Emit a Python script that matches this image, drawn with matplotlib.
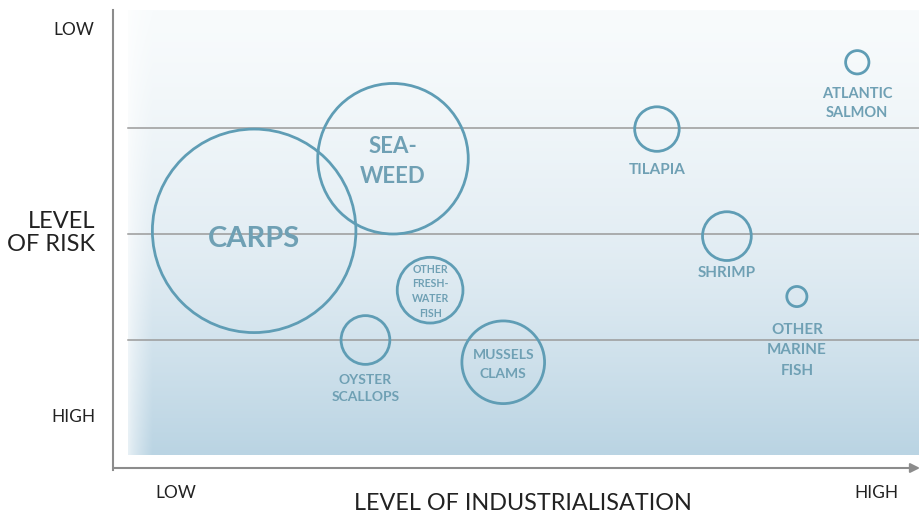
import numpy as np
import matplotlib.pyplot as plt
from matplotlib.patches import Circle
from matplotlib.colors import to_rgb

# Datos (nivel de industrializacion, nivel de riesgo, tamano)
especies = ['CARPS', 'SEA-\nWEED', 'OTHER\nFRESH-\nWATER\nFISH', 'OYSTER\nSCALLOPS',
            'MUSSELS\nCLAMS', 'TILAPIA', 'ATLANTIC\nSALMON', 'SHRIMP', 'OTHER\nMARINE\nFISH']
industrializacion = [1.19, 2.50, 2.85, 2.24, 3.54, 4.99, 6.88, 5.65, 6.31]
riesgo = [2.03, 2.71, 1.47, 1.00, 0.79, 2.99, 3.62, 1.98, 1.41]
tamano = [0.96, 0.71, 0.31, 0.23, 0.39, 0.21, 0.11, 0.23, 0.095]
etiqueta_dentro = [True, True, True, False, True, False, False, False, False]
niveles_riesgo = [1, 2, 3]

azul = '#5f9db5'
texto_azul = '#6fa0b4'
gris = '#8c8c8c'

W, H = 920, 513
fig = plt.figure(figsize=(W / 100, H / 100), dpi=100)
fig.patch.set_facecolor('white')

# ejes: x de 113 a 920 px, y de 10 a 470 px (1 unidad = 106 px)
ax = fig.add_axes([113 / W, (H - 470) / H, 807 / W, 460 / H])
x0, x1 = -15 / 106, 792 / 106
y0, y1 = -24 / 106, 436 / 106
ax.set_xlim(x0, x1)
ax.set_ylim(y0, y1)
ax.axis('off')

# fondo degradado
ny, nx = 300, 400
t = np.linspace(0, 1, ny)[:, None]  # 0 arriba, 1 abajo
arriba = np.array(to_rgb('#f8fbfc'))
medio = np.array(to_rgb('#e4eef4'))
abajo = np.array(to_rgb('#bad4e3'))
f = np.clip(t, 0, 1)
col = np.where(f[..., None] < 0.5,
               arriba + (medio - arriba) * (f[..., None] / 0.5) ** 1.3,
               medio + (abajo - medio) * ((f[..., None] - 0.5) / 0.5) ** 1.2)
col = np.repeat(col, nx, axis=1)
xs = np.linspace(0, 1, nx)[None, :]
borde = 0.35 + 0.65 * np.clip(xs / 0.03, 0, 1) ** 0.8
col = 1 - (1 - col) * borde[..., None]
ax.imshow(col, extent=[0, x1, -9 / 106, y1], aspect='auto', zorder=0,
          interpolation='bilinear')

# lineas horizontales
for nivel in niveles_riesgo:
    ax.plot([0, x1], [nivel, nivel], color='#9a9a9a', lw=1.1, zorder=1)

# burbujas
for i, nombre in enumerate(especies):
    c = Circle((industrializacion[i], riesgo[i]), tamano[i], fill=False,
               edgecolor=azul, lw=2.0, zorder=3)
    ax.add_patch(c)

# etiquetas
estilo = {
    'CARPS': dict(size=21, dy=-8),
    'SEA-\nWEED': dict(size=16, dy=-3, ls=1.5),
    'OTHER\nFRESH-\nWATER\nFISH': dict(size=7.6, dy=-1, ls=1.42),
    'MUSSELS\nCLAMS': dict(size=10, dy=-2, ls=1.7),
    'OYSTER\nSCALLOPS': dict(size=10, gap=10, ls=1.42),
    'TILAPIA': dict(size=11, gap=12),
    'ATLANTIC\nSALMON': dict(size=10.5, gap=13, ls=1.5),
    'SHRIMP': dict(size=11, gap=6),
    'OTHER\nMARINE\nFISH': dict(size=11, gap=16, ls=1.6),
}
for i, nombre in enumerate(especies):
    e = estilo[nombre]
    if etiqueta_dentro[i]:
        ax.annotate(nombre, (industrializacion[i], riesgo[i]),
                    xytext=(0, e['dy'] / 1.389), textcoords='offset points',
                    ha='center', va='center', fontsize=e['size'],
                    fontweight='bold', family='Lato', color=texto_azul,
                    linespacing=e.get('ls', 1.2), zorder=4)
    else:
        ax.annotate(nombre, (industrializacion[i], riesgo[i] - tamano[i]),
                    xytext=(0, -e['gap'] / 1.389), textcoords='offset points',
                    ha='center', va='top', fontsize=e['size'],
                    fontweight='bold', family='Lato', color=texto_azul,
                    linespacing=e.get('ls', 1.2), zorder=4)

# ejes con flecha
ax.plot([0, 0], [0, 1], transform=ax.transAxes, color=gris, lw=1.5,
        clip_on=False, zorder=5)
ax.annotate('', xy=(1.0, 2 / 460), xytext=(0, 2 / 460),
            xycoords='axes fraction',
            arrowprops=dict(arrowstyle='-|>', color=gris, lw=1.5,
                            mutation_scale=14, shrinkA=0, shrinkB=0))

# textos de ejes
def ftext(px, py, s, **kw):
    fig.text(px / W, 1 - py / H, s, family='Lato', color='#222222', **kw)

ftext(74, 30, 'LOW', ha='center', va='center', fontsize=12.5)
ftext(73, 417, 'HIGH', ha='center', va='center', fontsize=12.5)
ftext(95, 233, 'LEVEL\nOF RISK', ha='right', va='center', fontsize=17,
      linespacing=1.1)
ftext(176, 493, 'LOW', ha='center', va='center', fontsize=12.5)
ftext(876, 493, 'HIGH', ha='center', va='center', fontsize=12.5)
ftext(523, 503, 'LEVEL OF INDUSTRIALISATION', ha='center', va='center',
      fontsize=16.8)

fig.savefig('out.png', dpi=100)
